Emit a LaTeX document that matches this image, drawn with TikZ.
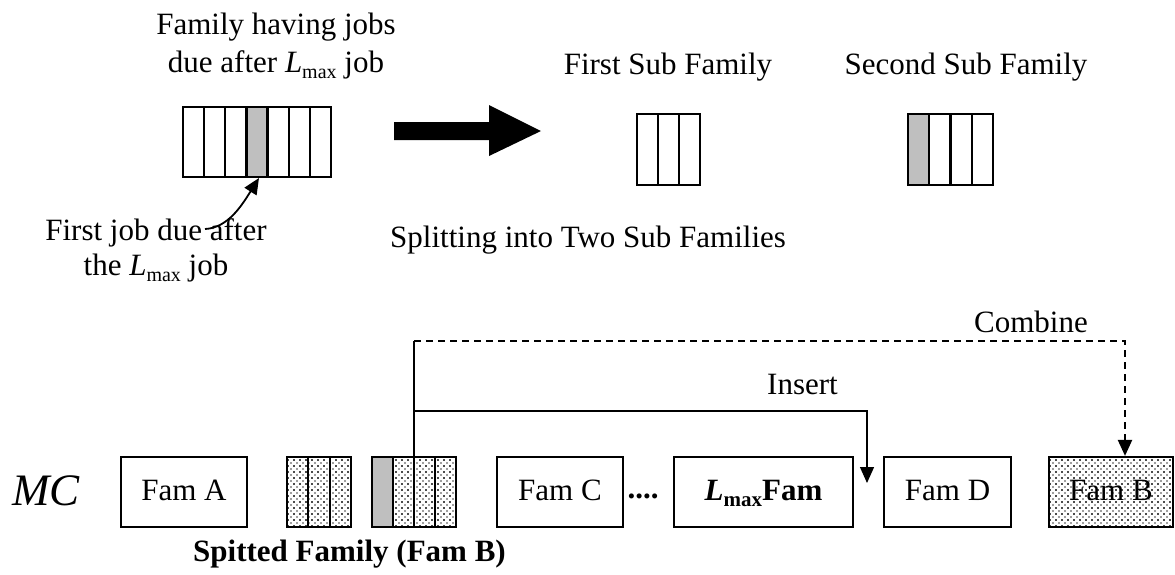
\documentclass[tikz,border=0pt]{standalone}
\usepackage{fontspec}
\setmainfont{Liberation Serif}
\usetikzlibrary{patterns,arrows.meta,calc}
\pgfdeclarepatternformonly{mydots}{\pgfqpoint{-1pt}{-1pt}}{\pgfqpoint{7pt}{7pt}}{\pgfqpoint{6pt}{6pt}}{%
  \pgfpathcircle{\pgfqpoint{0pt}{0pt}}{0.85pt}%
  \pgfpathcircle{\pgfqpoint{3pt}{3pt}}{0.85pt}%
  \pgfpathcircle{\pgfqpoint{6pt}{0pt}}{0.85pt}%
  \pgfpathcircle{\pgfqpoint{0pt}{6pt}}{0.85pt}%
  \pgfpathcircle{\pgfqpoint{6pt}{6pt}}{0.85pt}%
  \pgfusepath{fill}}
\newcommand\Lm{\textit{L}\raisebox{-0.2em}{\fontsize{20}{20}\selectfont max}}
\newcommand\Lmb{\textbf{\textit{L}}\raisebox{-0.2em}{\fontsize{21}{21}\selectfont\bfseries max}}
\begin{document}
\begin{tikzpicture}[x=1pt,y=-1pt,
  txt/.style={font=\fontsize{31}{36}\selectfont, inner sep=0pt, anchor=base},
  cell/.style={draw, line width=2.2pt},
  blk/.style={draw, line width=2.2pt, minimum height=70pt, inner sep=0pt,
    text height=20pt, text depth=4pt, font=\fontsize{31}{36}\selectfont},
  dotfill/.style={pattern=mydots, pattern color=black!75},
  conn/.style={line width=2.2pt},
  tip/.style={-{Triangle[length=16pt,width=14pt]}}]
\useasboundingbox (0,0) rectangle (1175,574);
% ---------- top family ----------
\fill[gray!50] (247.4,107) rectangle (268.6,177);
\foreach \i in {0,...,6} \draw[cell] (183+\i*21.14,107) rectangle ++(21.14,70);
\coordinate (grayb) at (259,178);
\node[txt] (t1) at (276,34) {Family having jobs};
\node[txt] (t2) at (276,72) {due after \Lm{} job};
\node[txt] (f1) at (156,240) {First job due after};
\node[txt] (f2) at (156,275) {the \Lm{} job};
\coordinate (cstart) at (205,229);
\draw[line width=1.8pt, -{Triangle[length=16pt,width=14pt]}] (cstart) .. controls (228,228) and (242,205) .. (grayb);
% ---------- big arrow ----------
\fill (394,122) -- (489,122) -- (489,105) -- (541,131) -- (489,156) -- (489,140) -- (394,140) -- cycle;
% ---------- sub families ----------
\node[txt] (s1) at (668,74) {First Sub Family};
\node[txt] (s2) at (966,74) {Second Sub Family};
\foreach \i in {0,1,2} \draw[cell] (637+\i*21,114) rectangle ++(21,71);
\fill[gray!50] (908,114) rectangle (929.25,185);
\foreach \i in {0,...,3} \draw[cell] (908+\i*21.25,114) rectangle ++(21.25,71);
\node[txt, anchor=base west] (split) at (390,247) {Splitting into Two Sub Families};
% ---------- bottom row ----------
\node[anchor=base west, inner sep=0pt, font=\fontsize{45}{45}\selectfont\itshape] (mc) at (12,505) {MC};
\node[blk, minimum width=126pt] (famA) at (184,492) {Fam A};
\fill[dotfill] (287,457) rectangle (351,527);
\foreach \i in {0,1,2} \draw[cell] (287+\i*21.33,457) rectangle ++(21.33,70);
\node[minimum width=84pt, minimum height=70pt, inner sep=0pt] (b2) at (414,492) {};
\fill[gray!50] (372,457) rectangle (393,527);
\fill[dotfill] (393,457) rectangle (456,527);
\foreach \i in {0,...,3} \draw[cell] (372+\i*21,457) rectangle ++(21,70);
\node[txt, anchor=base west, font=\fontsize{31}{36}\selectfont\bfseries] (split2) at (193,561) {Spitted Family (Fam B)};
\node[blk, minimum width=126pt] (famC) at (560,492) {Fam C};
\node[txt, font=\fontsize{31}{36}\selectfont\bfseries] (dots) at (643,498) {....};
\node[blk, minimum width=179pt] (famL) at (763.5,492) {\Lmb\textbf{Fam}};
\node[blk, minimum width=127pt] (famD) at (947.5,492) {Fam D};
\node[blk, minimum width=124pt, dotfill] (famB) at (1111,492) {Fam B};
% ---------- connectors ----------
\coordinate (ctop) at (414,341);
\coordinate (cend) at ($(famB.north)+(14,0)$);
\draw[conn] (b2.north) -- (ctop);
\draw[conn, dash pattern=on 7pt off 5pt, tip] (ctop) -| (cend);
\node[txt, anchor=base east] (comb) at (1088,332) {Combine};
\coordinate (ins) at (414,411);
\coordinate (insmid) at (747,411);
\coordinate (insend) at (867,483);
\draw[conn] (ins) -- (insmid);
\draw[line width=1.3pt, tip] (insmid) -| (insend);
\node[txt, anchor=base west] (ins-t) at (767,394) {Insert};
\end{tikzpicture}
\end{document}
